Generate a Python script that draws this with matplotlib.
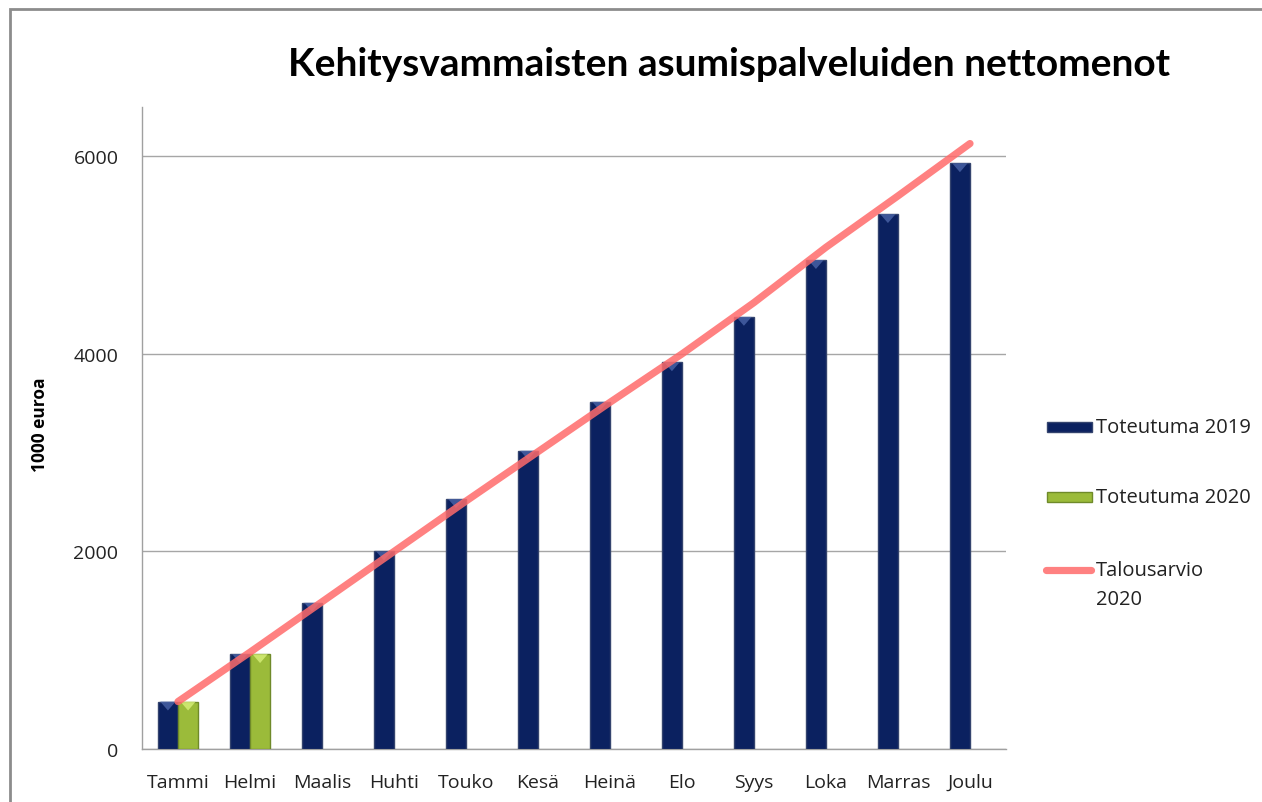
import matplotlib
matplotlib.use("Agg")
import matplotlib.pyplot as plt
from matplotlib.patches import Rectangle, Polygon
from matplotlib.lines import Line2D
import numpy as np

months = ["Tammi", "Helmi", "Maalis", "Huhti", "Touko", "Kesä", "Heinä",
          "Elo", "Syys", "Loka", "Marras", "Joulu"]
toteutuma_2019 = [480, 960, 1480, 2000, 2530, 3020, 3515, 3915, 4375, 4950, 5415, 5930]
toteutuma_2020 = [480, 960]
talousarvio_2020 = [480, 980, 1490, 2000, 2510, 3010, 3510, 4000, 4520, 5080, 5600, 6130]
yticks = [0, 2000, 4000, 6000]

W, H = 1262, 803
fig = plt.figure(figsize=(W / 100, H / 100), dpi=100)
fig.patch.set_facecolor("white")

# outer chart frame
fig.add_artist(Rectangle((10 / W, -0.05), 1.1, 1 - 10 / H + 0.05,
                         transform=fig.transFigure, fill=False,
                         edgecolor="#8c8c8c", linewidth=2))

ax = fig.add_axes([142 / W, 1 - 750 / H, (1006 - 142) / W, (750 - 108) / H])
x = np.arange(len(months))
bw = 0.28
navy = "#0b2160"
green = "#9bbb3a"

bars19 = ax.bar(x - bw / 2, toteutuma_2019, width=bw, color=navy,
                edgecolor="#34446e", linewidth=1.0, zorder=3)
bars20 = ax.bar(x[:len(toteutuma_2020)] + bw / 2, toteutuma_2020, width=bw, color=green,
                edgecolor="#6f8a2a", linewidth=1.0, zorder=3)

# bevel highlight triangles on bar tops
for bars, hl in ((bars19, "#4a64a8"), (bars20, "#d8f07a")):
    for b in bars:
        x0, w, h = b.get_x(), b.get_width(), b.get_height()
        tri = Polygon([(x0 + w * 0.12, h), (x0 + w * 0.88, h), (x0 + w / 2, h - 90)],
                      closed=True, facecolor=hl, edgecolor="none", alpha=0.8, zorder=3.5)
        ax.add_patch(tri)

ax.plot(x, talousarvio_2020, color="#ff6b6b", alpha=0.85, linewidth=5.2,
        solid_capstyle="round", zorder=4)

ax.set_xlim(-0.5, len(months) - 0.5)
ax.set_ylim(0, 6500)
ax.set_yticks(yticks)
ax.set_xticks(x)
ax.set_xticklabels(months)
ax.yaxis.grid(True, color="#a6a6a6", linewidth=1)
ax.set_axisbelow(True)
for s in ["top", "right"]:
    ax.spines[s].set_visible(False)
for s in ["left", "bottom"]:
    ax.spines[s].set_color("#a0a0a0")
    ax.spines[s].set_linewidth(1)
ax.tick_params(length=0, labelsize=14, colors="#222222")
for lbl in ax.get_xticklabels() + ax.get_yticklabels():
    lbl.set_fontfamily("Open Sans")
ax.tick_params(axis="y", pad=17)
ax.tick_params(axis="x", pad=17)

fig.text(40 / W, 1 - 425 / H, "1000 euroa", rotation=90, ha="center", va="center",
         fontsize=12.5, fontweight="bold", family="Open Sans")

fig.text(729 / W, 1 - 65 / H, "Kehitysvammaisten asumispalveluiden nettomenot",
         ha="center", va="center", fontsize=28, fontweight="bold", family="Lato")

# legend
def fx(px):
    return px / W

def fy(py):
    return 1 - py / H

lfs = 14.5
fig.add_artist(Rectangle((fx(1047), fy(433)), fx(45), 10 / H, transform=fig.transFigure,
                         facecolor=navy, edgecolor="#34446e", linewidth=1.0))
fig.text(fx(1096), fy(428), "Toteutuma 2019", ha="left", va="center",
         fontsize=lfs, family="Open Sans", color="#222222")
fig.add_artist(Rectangle((fx(1047), fy(503)), fx(45), 10 / H, transform=fig.transFigure,
                         facecolor=green, edgecolor="#6f8a2a", linewidth=1.0))
fig.text(fx(1096), fy(498), "Toteutuma 2020", ha="left", va="center",
         fontsize=lfs, family="Open Sans", color="#222222")
fig.add_artist(Line2D([fx(1046), fx(1091)], [fy(571), fy(571)], transform=fig.transFigure,
                      color="#ff6b6b", alpha=0.85, linewidth=5.2, solid_capstyle="round"))
fig.text(fx(1096), fy(571), "Talousarvio", ha="left", va="center",
         fontsize=lfs, family="Open Sans", color="#222222")
fig.text(fx(1096), fy(600), "2020", ha="left", va="center",
         fontsize=lfs, family="Open Sans", color="#222222")

fig.savefig("out.png", dpi=100)
